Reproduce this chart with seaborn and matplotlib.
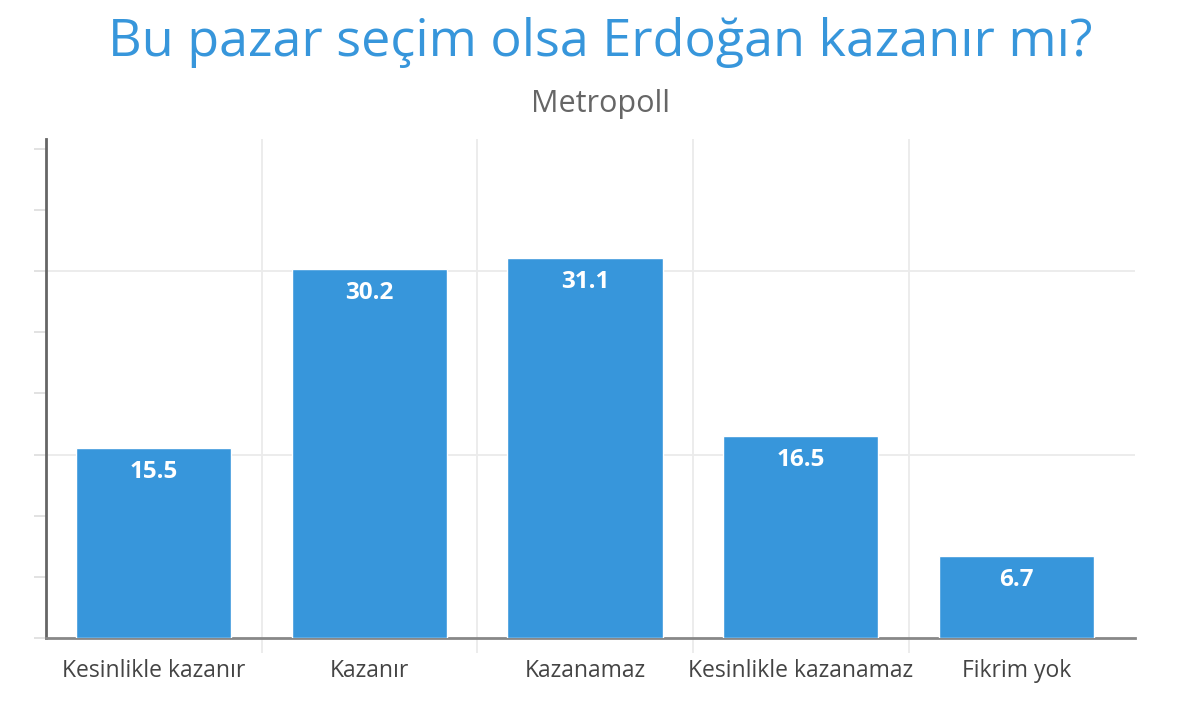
import numpy as np
import pandas as pd
import matplotlib
matplotlib.use("Agg")
import matplotlib.pyplot as plt
from matplotlib.ticker import MultipleLocator, FixedLocator
import seaborn as sns

categories = ["Kesinlikle kazanır", "Kazanır", "Kazanamaz", "Kesinlikle kazanamaz", "Fikrim yok"]
values = [15.5, 30.2, 31.1, 16.5, 6.7]

title = "Bu pazar seçim olsa Erdoğan kazanır mı?"
subtitle = "Metropoll"

df = pd.DataFrame({"cevap": categories, "oran": values})

sns.set_theme(style="white")
plt.rcParams["font.family"] = ["Open Sans", "DejaVu Sans"]

blue = "#3796db"

fig = plt.figure(figsize=(12, 7.06), dpi=100)
ax = fig.add_axes([0.0383, 0.0963, 0.9075, 0.7067])

sns.barplot(data=df, x="cevap", y="oran", color=blue, saturation=1, width=0.72, ax=ax, zorder=3)

ax.set_xlim(-0.5, 4.55)
ax.set_ylim(0, 40.8)

# grid: horizontal at 15/30, vertical between categories
ax.yaxis.set_major_locator(FixedLocator([15, 30]))
ax.yaxis.set_minor_locator(MultipleLocator(5))
ax.xaxis.set_minor_locator(FixedLocator(np.arange(0.5, 4.5, 1)))
ax.grid(True, axis="y", which="major", color="#ebebeb", lw=1.3, zorder=0)
ax.grid(True, axis="x", which="minor", color="#ebebeb", lw=1.3, zorder=0)
ax.grid(False, axis="x", which="major")

ax.tick_params(axis="y", which="both", left=True, length=9, width=1.2, color="#dddddd", labelleft=False)
ax.tick_params(axis="x", which="major", length=0, pad=15, labelsize=16.5, labelcolor="#444444")
ax.tick_params(axis="x", which="minor", bottom=True, length=11, width=1.3, color="#ebebeb")

for s in ["top", "right"]:
    ax.spines[s].set_visible(False)
ax.spines["left"].set_color("#666666")
ax.spines["left"].set_linewidth(2)
ax.spines["bottom"].set_color("#888888")
ax.spines["bottom"].set_linewidth(2)

ax.set_xlabel("")
ax.set_ylabel("")

for i, v in enumerate(values):
    ax.annotate(f"{v}", (i, v), xytext=(0, -24), textcoords="offset pixels",
                ha="center", va="center", color="white", fontsize=17.5, fontweight="bold", zorder=4)

fig.text(0.5, 1 - 43 / 706, title, ha="center", va="center", fontsize=37.5, color=blue)
fig.text(0.5, 1 - 104 / 706, subtitle, ha="center", va="center", fontsize=22, color="#666666")

fig.savefig("out.png", dpi=100)
